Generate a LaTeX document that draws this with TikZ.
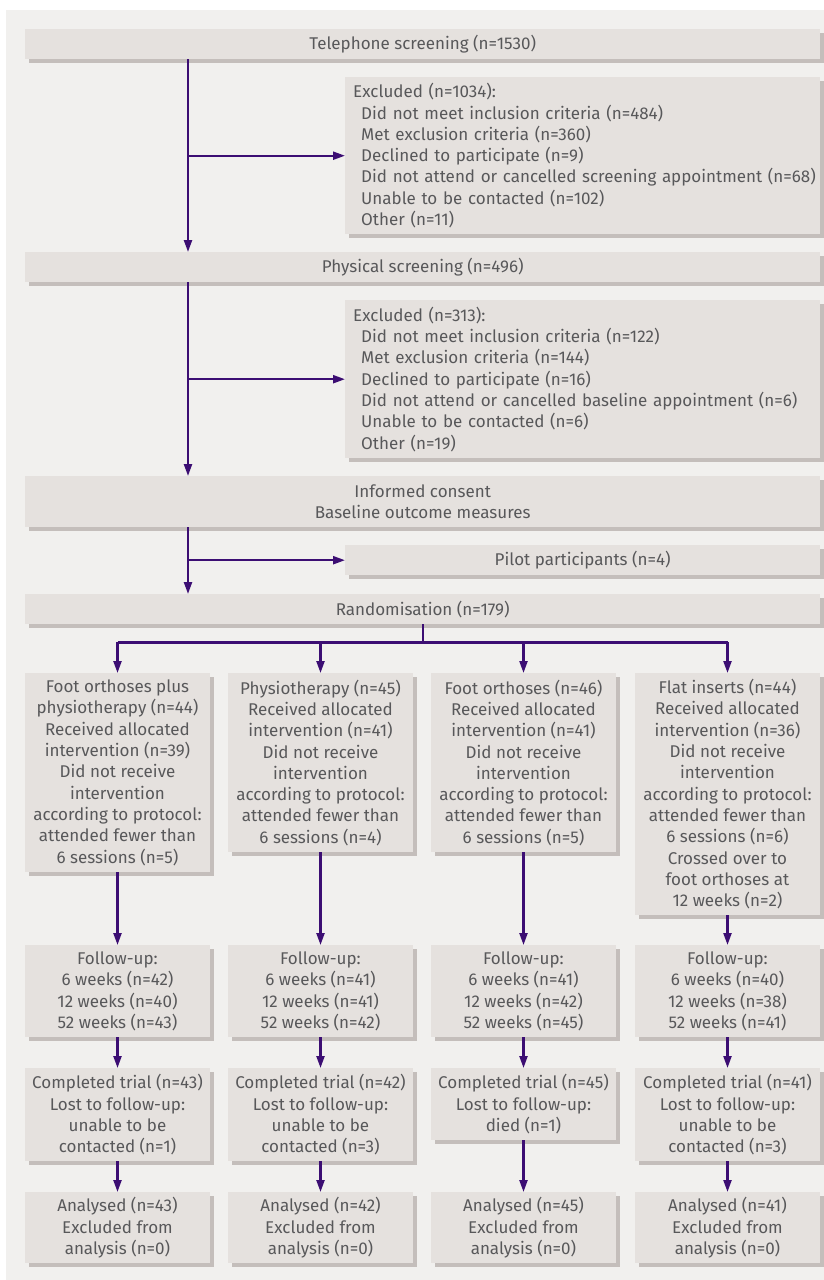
\documentclass[tikz,border=0pt]{standalone}
\usepackage{fontspec}
\setmainfont{Fira Sans}
\usetikzlibrary{arrows.meta,positioning,shadows}
\definecolor{bgcol}{RGB}{241,240,238}
\definecolor{boxcol}{RGB}{229,225,222}
\definecolor{shadecol}{RGB}{196,190,187}
\definecolor{txtcol}{RGB}{88,88,90}
\definecolor{flowcol}{RGB}{60,14,115}
\newcommand{\boxfont}{\fontsize{17}{21.3}\selectfont}
\newcommand{\ind}[1]{\mbox{\hspace*{8pt}#1}}

\begin{document}
\begin{tikzpicture}[x=1pt,y=-1pt,
   box/.style={fill=boxcol,text=txtcol,font=\boxfont,inner sep=0pt,align=center,
     drop shadow={shadow xshift=3.5pt,shadow yshift=-3.5pt,fill=shadecol,opacity=1}},
   wide/.style={box,anchor=north west,minimum width=795pt,minimum height=30pt},
   side/.style={box,anchor=north west,minimum width=475pt},
   col/.style={box,anchor=north,minimum width=185pt},
   flow/.style={flowcol,line width=2.2pt},
   arr/.style={flow,-{Triangle[length=12pt,width=8pt]}}]
  \fill[bgcol] (6,10) rectangle (824,1280);
  \useasboundingbox (0,0) rectangle (824,1280);
  \coordinate (sp) at (188,0);
  % screening stages
  \node[wide] (tel) at (25,29) {Telephone screening (n=1530)};
  \node[side,minimum height=157pt,align=left,text width=459pt] (exc1) at (345,77)
    {Excluded (n=1034):\\
     \ind{Did not meet inclusion criteria (n=484)}\\
     \ind{Met exclusion criteria (n=360)}\\
     \ind{Declined to participate (n=9)}\\
     \ind{Did not attend or cancelled screening appointment (n=68)}\\
     \ind{Unable to be contacted (n=102)}\\
     \ind{Other (n=11)}};
  \node[wide] (phys) at (25,252) {Physical screening (n=496)};
  \node[side,minimum height=158pt,align=left,text width=459pt] (exc2) at (345,300)
    {Excluded (n=313):\\
     \ind{Did not meet inclusion criteria (n=122)}\\
     \ind{Met exclusion criteria (n=144)}\\
     \ind{Declined to participate (n=16)}\\
     \ind{Did not attend or cancelled baseline appointment (n=6)}\\
     \ind{Unable to be contacted (n=6)}\\
     \ind{Other (n=19)}};
  \node[wide,minimum height=51pt] (cons) at (25,476) {Informed consent\\Baseline outcome measures};
  \node[side,minimum height=30pt] (pilot) at (345,545) {Pilot participants (n=4)};
  \node[wide] (rand) at (25,594) {Randomisation (n=179)};
  \draw[arr] (tel.south -| sp) -- (phys.north -| sp);
  \draw[arr] (sp |- exc1.west) -- (exc1.west);
  \draw[arr] (phys.south -| sp) -- (cons.north -| sp);
  \draw[arr] (sp |- exc2.west) -- (exc2.west);
  \draw[arr] (cons.south -| sp) -- (rand.north -| sp);
  \draw[arr] (sp |- pilot.west) -- (pilot.west);
  % allocation
  \node[col,minimum height=199pt] (a1) at (117.5,673)
    {Foot orthoses plus\\physiotherapy (n=44)\\Received allocated\\intervention (n=39)\\Did not receive\\intervention\\according to protocol:\\attended fewer than\\6 sessions (n=5)};
  \node[col,minimum height=179pt] (a2) at (320.5,673)
    {Physiotherapy (n=45)\\Received allocated\\intervention (n=41)\\Did not receive\\intervention\\according to protocol:\\attended fewer than\\6 sessions (n=4)};
  \node[col,minimum height=179pt] (a3) at (523.5,673)
    {Foot orthoses (n=46)\\Received allocated\\intervention (n=41)\\Did not receive\\intervention\\according to protocol:\\attended fewer than\\6 sessions (n=5)};
  \node[col,minimum height=242pt] (a4) at (727.5,673)
    {Flat inserts (n=44)\\Received allocated\\intervention (n=36)\\Did not receive\\intervention\\according to protocol:\\attended fewer than\\6 sessions (n=6)\\Crossed over to\\foot orthoses at\\12 weeks (n=2)};
  % follow-up
  \node[col,minimum height=92pt] (f1) at (117.5,945) {Follow-up:\\6 weeks (n=42)\\12 weeks (n=40)\\52 weeks (n=43)};
  \node[col,minimum height=92pt] (f2) at (320.5,945) {Follow-up:\\6 weeks (n=41)\\12 weeks (n=41)\\52 weeks (n=42)};
  \node[col,minimum height=92pt] (f3) at (523.5,945) {Follow-up:\\6 weeks (n=41)\\12 weeks (n=42)\\52 weeks (n=45)};
  \node[col,minimum height=92pt] (f4) at (727.5,945) {Follow-up:\\6 weeks (n=40)\\12 weeks (n=38)\\52 weeks (n=41)};
  \node[col,minimum height=93pt] (c1) at (117.5,1068) {Completed trial (n=43)\\Lost to follow-up:\\unable to be\\contacted (n=1)};
  \node[col,minimum height=93pt] (c2) at (320.5,1068) {Completed trial (n=42)\\Lost to follow-up:\\unable to be\\contacted (n=3)};
  \node[col,minimum height=72pt] (c3) at (523.5,1068) {Completed trial (n=45)\\Lost to follow-up:\\died (n=1)};
  \node[col,minimum height=93pt] (c4) at (727.5,1068) {Completed trial (n=41)\\Lost to follow-up:\\unable to be\\contacted (n=3)};
  % analysis
  \node[col,minimum height=71pt] (n1) at (117.5,1192) {Analysed (n=43)\\Excluded from\\analysis (n=0)};
  \node[col,minimum height=71pt] (n2) at (320.5,1192) {Analysed (n=42)\\Excluded from\\analysis (n=0)};
  \node[col,minimum height=71pt] (n3) at (523.5,1192) {Analysed (n=45)\\Excluded from\\analysis (n=0)};
  \node[col,minimum height=71pt] (n4) at (727.5,1192) {Analysed (n=41)\\Excluded from\\analysis (n=0)};
  \draw[flow] (rand.south) -- ++(0,18) coordinate (split);
  \draw[flow] (a1.north |- split) -- (a4.north |- split);
  \foreach \i in {1,...,4}{
    \draw[arr] (a\i.north |- split) -- (a\i.north);
    \draw[arr] (a\i) -- (f\i);
    \draw[arr] (f\i) -- (c\i);
    \draw[arr] (c\i) -- (n\i);
  }
\end{tikzpicture}
\end{document}
